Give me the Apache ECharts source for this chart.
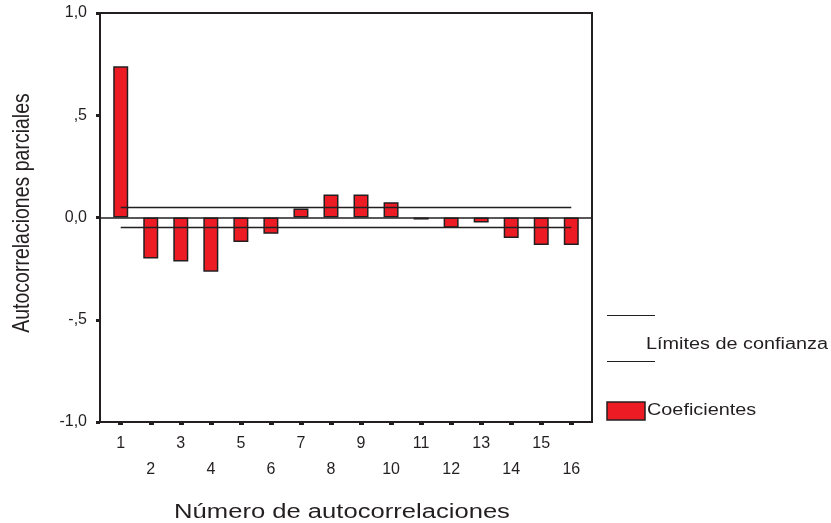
<!DOCTYPE html>
<html><head><meta charset="utf-8">
<script src="https://cdn.jsdelivr.net/npm/echarts@6/dist/echarts.min.js"></script>
<style>html,body{margin:0;padding:0;background:#fff}#c{width:831px;height:523px}</style>
</head><body><div id="c"></div>
<script>
var lags = [1,2,3,4,5,6,7,8,9,10,11,12,13,14,15,16];
var coef = [0.74,-0.20,-0.215,-0.265,-0.12,-0.08,0.044,0.113,0.113,0.075,-0.01,-0.05,-0.025,-0.10,-0.135,-0.135];
var confLimit = 0.049;
var yTicks = {'1':'1,0','0.5':',5','0':'0,0','-0.5':'-,5','-1':'-1,0'};
var xTitle = 'Número de autocorrelaciones';
var yTitle = 'Autocorrelaciones parciales';
var legendConf = 'Límites de confianza';
var legendCoef = 'Coeficientes';
var ink = '#231F20';
var red = '#ED1C24';
var font = 'Liberation Sans, Arial, sans-serif';

var chart = echarts.init(document.getElementById('c'), null, {renderer:'canvas'});
chart.setOption({
  animation:false,
  backgroundColor:'#fff',
  grid:{left:100,right:239,top:13,bottom:101,show:true,borderColor:ink,borderWidth:2,backgroundColor:'transparent'},
  xAxis:{
    type:'value', min:0.31, max:16.69,
    axisLine:{show:true,onZero:false,lineStyle:{color:ink,width:2}},
    axisTick:{show:true,customValues:lags,length:3,lineStyle:{color:ink,width:5}},
    axisLabel:{customValues:lags,fontFamily:font,fontSize:16,color:ink,margin:9,lineHeight:26,
      formatter:function(v){return (v%2===0?'\n':'')+v;}},
    splitLine:{show:false}
  },
  yAxis:{
    type:'value', min:-1, max:1, interval:0.5,
    axisLine:{show:true,lineStyle:{color:ink,width:2}},
    axisTick:{show:true,length:4,lineStyle:{color:ink,width:3}},
    axisLabel:{fontFamily:font,fontSize:16,color:ink,margin:13,
      formatter:function(v){return yTicks[String(v)];}},
    splitLine:{show:false}
  },
  series:[
    {type:'bar', barWidth:15, data:lags.map(function(l,i){return [l,coef[i]];}),
     itemStyle:{color:red,borderColor:ink,borderWidth:1.5},
     markLine:{symbol:'none',silent:true,label:{show:false},lineStyle:{color:ink,width:1.5,type:'solid'},data:[{yAxis:0}]}},
    {type:'line', symbol:'none', data:[[lags[0],confLimit],[lags[lags.length-1],confLimit]],
     lineStyle:{color:ink,width:1.5}, z:3},
    {type:'line', symbol:'none', data:[[lags[0],-confLimit],[lags[lags.length-1],-confLimit]],
     lineStyle:{color:ink,width:1.5}, z:3}
  ],
  graphic:[
    {type:'text',x:342,y:512,scaleX:1.28,style:{text:xTitle,fontFamily:font,fontSize:20,fill:ink,textAlign:'center',verticalAlign:'middle'}},
    {type:'text',x:23,y:213,rotation:Math.PI/2,scaleY:1.2,style:{text:yTitle,fontFamily:font,fontSize:19.5,fill:ink,textAlign:'center',verticalAlign:'middle'}},
    {type:'line',shape:{x1:607,y1:315.5,x2:655,y2:315.5},style:{stroke:ink,lineWidth:1.2}},
    {type:'line',shape:{x1:607,y1:361.5,x2:655,y2:361.5},style:{stroke:ink,lineWidth:1.2}},
    {type:'text',x:646,y:345,scaleX:1.24,style:{text:legendConf,fontFamily:font,fontSize:16,fill:ink,verticalAlign:'middle'}},
    {type:'rect',shape:{x:607,y:402,width:38,height:18},style:{fill:red,stroke:ink,lineWidth:1.5}},
    {type:'text',x:647,y:411,scaleX:1.24,style:{text:legendCoef,fontFamily:font,fontSize:16,fill:ink,verticalAlign:'middle'}}
  ]
});
</script></body></html>
